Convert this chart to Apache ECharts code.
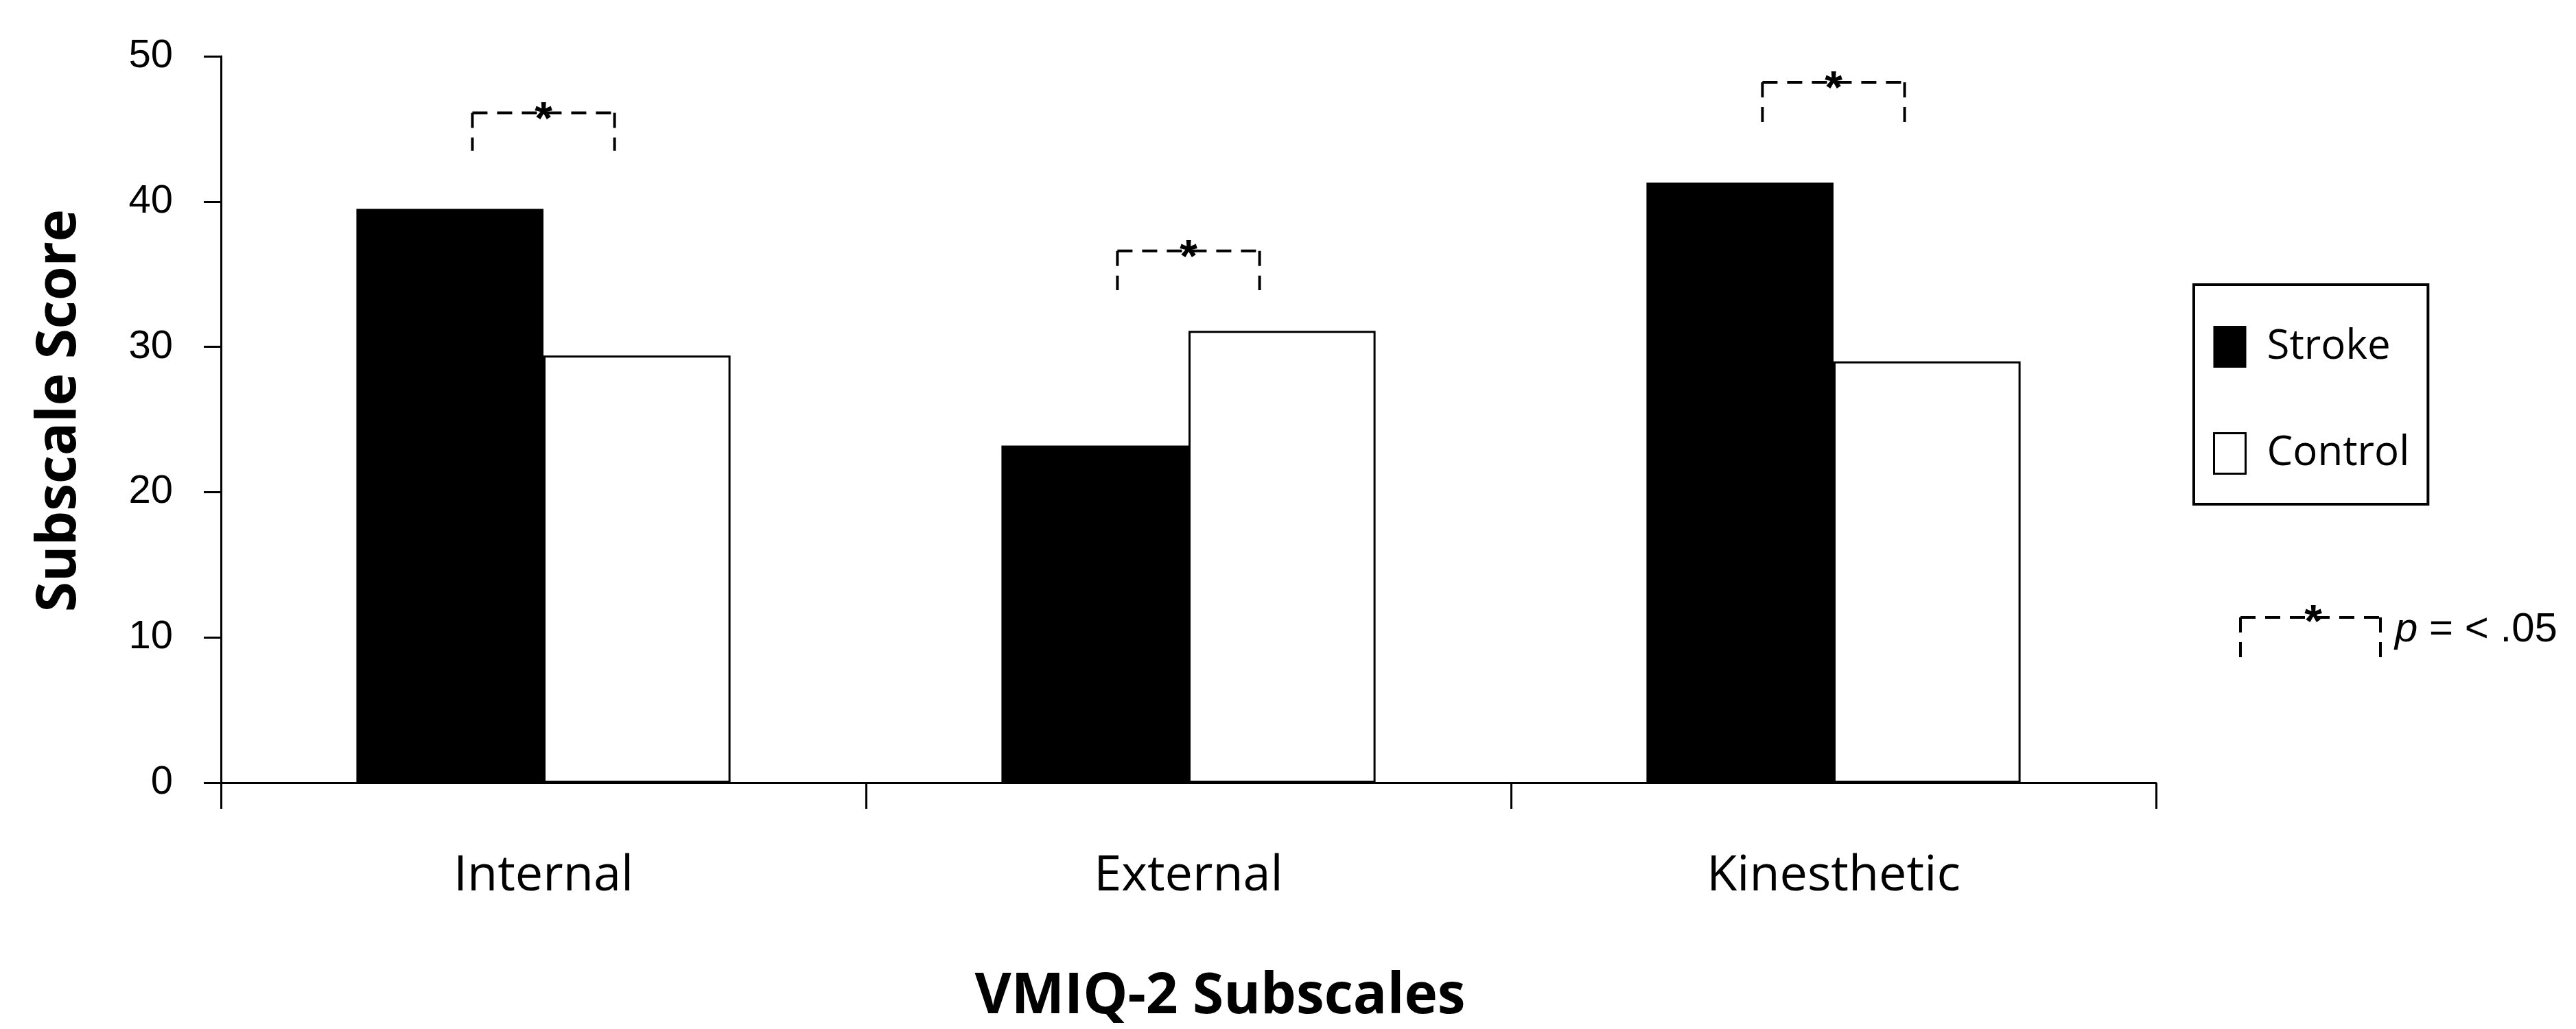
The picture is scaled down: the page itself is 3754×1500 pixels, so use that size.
<!DOCTYPE html>
<html>
<head>
<meta charset="utf-8">
<script src="https://cdn.jsdelivr.net/npm/echarts@6/dist/echarts.min.js"></script>
<style>
  html, body { margin: 0; padding: 0; background: #fff; }
  #chart { width: 3754px; height: 1500px; }
</style>
</head>
<body>
<div id="chart"></div>
<script>
// ---- data ----
const categories = ['Internal', 'External', 'Kinesthetic'];
const strokeValues = [39.5, 23.2, 41.3];
const controlValues = [29.4, 31.1, 29.0];
const yTicks = [0, 10, 20, 30, 40, 50];
// significance brackets (value of top line, value of leg ends)
const bracketTop = [46.1, 36.6, 48.2];
const bracketBottom = [43.5, 33.9, 45.2];
const sigLabel = '= < .05';

const BAR_FRAC = 0.29;
const chart = echarts.init(document.getElementById('chart'));

const dashStyle = { stroke: '#000', lineWidth: 4, lineDash: [22, 14] };
const starStyle = { text: '*', fontSize: 66, fontWeight: 'bold', fontFamily: 'Liberation Sans',
                    fill: '#000', align: 'center', verticalAlign: 'middle' };

const bracketData = categories.map((c, i) => [i, bracketTop[i], bracketBottom[i]]);

const option = {
  backgroundColor: '#fff',
  animation: false,
  grid: { left: 322, right: 612, top: 82, bottom: 351 },
  legend: {
    orient: 'vertical',
    left: 3197,
    top: 415,
    padding: [60, 27, 43, 28],
    borderColor: '#000',
    borderWidth: 4,
    itemWidth: 46,
    itemHeight: 59,
    itemGap: 94,
    textStyle: {
      fontFamily: 'Open Sans',
      fontSize: 60,
      color: '#000',
      padding: [0, 0, 0, 26]
    },
    data: [
      { name: 'Stroke', icon: 'rect', itemStyle: { color: '#000' } },
      { name: 'Control', icon: 'rect', itemStyle: { color: '#fff', borderColor: '#000', borderWidth: 3 } }
    ]
  },
  xAxis: {
    type: 'category',
    data: categories,
    boundaryGap: true,
    name: 'VMIQ-2 Subscales',
    nameLocation: 'middle',
    nameGap: 272,
    nameTextStyle: {
      fontFamily: 'Open Sans',
      fontWeight: 'bold',
      fontSize: 82,
      color: '#000',
      padding: [0, 0, 0, 92]
    },
    axisLine: { show: true, lineStyle: { color: '#000', width: 3 } },
    axisTick: { show: true, length: 38, lineStyle: { color: '#000', width: 3 } },
    axisLabel: {
      fontFamily: 'Open Sans',
      fontSize: 72,
      color: '#000',
      margin: 100
    },
    splitLine: { show: false }
  },
  yAxis: {
    type: 'value',
    min: yTicks[0],
    max: yTicks[yTicks.length - 1],
    interval: yTicks[1] - yTicks[0],
    name: 'Subscale Score',
    nameLocation: 'middle',
    nameRotate: 90,
    nameGap: 195,
    nameTextStyle: {
      fontFamily: 'Open Sans',
      fontWeight: 'bold',
      fontSize: 80,
      color: '#000',
      padding: [0, 0, 0, 26]
    },
    axisLine: { show: true, lineStyle: { color: '#000', width: 3 } },
    axisTick: { show: true, length: 25, lineStyle: { color: '#000', width: 3 } },
    axisLabel: {
      fontFamily: 'Liberation Sans',
      fontSize: 58,
      color: '#000',
      margin: 70
    },
    splitLine: { show: false }
  },
  series: [
    {
      name: 'Stroke',
      type: 'bar',
      data: strokeValues,
      barWidth: (BAR_FRAC * 100) + '%',
      barGap: '0%',
      itemStyle: { color: '#000', borderColor: '#000', borderWidth: 3 }
    },
    {
      name: 'Control',
      type: 'bar',
      data: controlValues,
      barWidth: (BAR_FRAC * 100) + '%',
      barGap: '0%',
      itemStyle: { color: '#fff', borderColor: '#000', borderWidth: 3 }
    },
    {
      name: 'sig',
      type: 'custom',
      clip: false,
      z: 5,
      data: bracketData,
      renderItem: function (params, api) {
        const c = api.value(0);
        const top = api.coord([c, api.value(1)]);
        const bot = api.coord([c, api.value(2)]);
        const bw = api.size([1, 0])[0] * BAR_FRAC;
        const half = bw * 0.38;
        const x0 = top[0] - half, x1 = top[0] + half;
        return {
          type: 'group',
          children: [
            { type: 'line', shape: { x1: x0, y1: top[1], x2: x1, y2: top[1] }, style: dashStyle },
            { type: 'line', shape: { x1: x0, y1: top[1], x2: x0, y2: bot[1] }, style: dashStyle },
            { type: 'line', shape: { x1: x1, y1: top[1], x2: x1, y2: bot[1] }, style: dashStyle },
            { type: 'text', x: top[0], y: top[1] + 12, style: starStyle }
          ]
        };
      }
    }
  ],
  graphic: [
    {
      type: 'group',
      children: [
        { type: 'line', shape: { x1: 3265, y1: 900, x2: 3469, y2: 900 }, style: dashStyle },
        { type: 'line', shape: { x1: 3265, y1: 900, x2: 3265, y2: 963 }, style: dashStyle },
        { type: 'line', shape: { x1: 3469, y1: 900, x2: 3469, y2: 963 }, style: dashStyle },
        { type: 'text', x: 3371, y: 910, style: starStyle },
        { type: 'text', x: 3490, y: 918,
          style: {
            text: '{i|p} {n|' + sigLabel + '}',
            verticalAlign: 'middle',
            align: 'left',
            fill: '#000',
            fontFamily: 'Liberation Sans',
            fontSize: 60,
            rich: {
              i: { fontStyle: 'italic', fontFamily: 'Liberation Sans', fontSize: 60, fill: '#000' },
              n: { fontFamily: 'Liberation Sans', fontSize: 60, fill: '#000' }
            }
          } }
      ]
    }
  ]
};

chart.setOption(option);
</script>
</body>
</html>
